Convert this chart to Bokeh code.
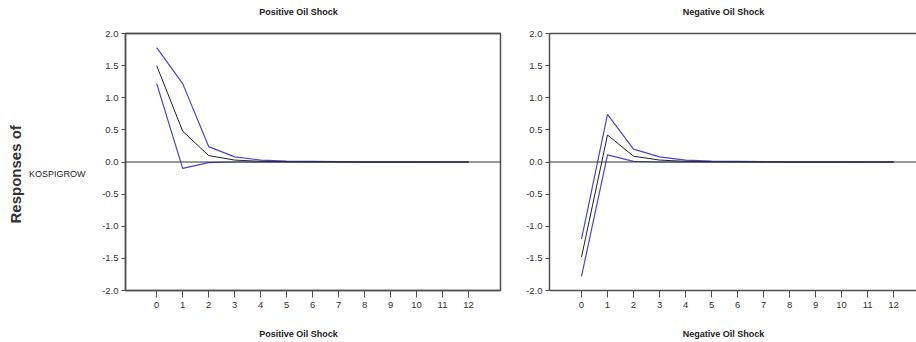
from bokeh.plotting import figure
from bokeh.layouts import row, column
from bokeh.models import Title, Span, LinearAxis, FixedTicker, NumeralTickFormatter, Range1d
from bokeh.core.properties import value
from bokeh.embed import file_html
from bokeh.resources import INLINE

periods = list(range(13))
pos_mid = [1.50, 0.48, 0.10, 0.03, 0.01, 0.005, 0.002, 0.001, 0.0, 0.0, 0.0, 0.0, 0.0]
pos_up = [1.78, 1.22, 0.24, 0.08, 0.03, 0.015, 0.01, 0.005, 0.003, 0.002, 0.001, 0.0, 0.0]
pos_lo = [1.22, -0.10, -0.01, 0.0, 0.0, 0.0, 0.0, 0.0, 0.0, 0.0, 0.0, 0.0, 0.0]
neg_mid = [-1.48, 0.42, 0.09, 0.03, 0.01, 0.005, 0.002, 0.001, 0.0, 0.0, 0.0, 0.0, 0.0]
neg_up = [-1.20, 0.74, 0.20, 0.08, 0.03, 0.015, 0.01, 0.005, 0.003, 0.002, 0.001, 0.0, 0.0]
neg_lo = [-1.78, 0.11, 0.01, 0.0, 0.0, 0.0, 0.0, 0.0, 0.0, 0.0, 0.0, 0.0, 0.0]
y_ticks = [-2.0, -1.5, -1.0, -0.5, 0.0, 0.5, 1.0, 1.5, 2.0]
titles = ["Positive Oil Shock", "Negative Oil Shock"]
row_label = "Responses of"
var_label = "KOSPIGROW"

FONT = "Liberation Sans"
BLUE = "#4848c6"
AXC = "#505050"
W = 916
TOP_H = 20
BOT_H = 24
MAIN_H = 342 - TOP_H - BOT_H
TITLE_X = [298, 723]   # pixel centres of the panel titles inside the strips


def strip(height, y):
    s = figure(width=W, height=height, output_backend="svg", toolbar_location=None,
               x_range=Range1d(0, W), y_range=Range1d(0, height),
               x_axis_location=None, y_axis_location=None, min_border=0)
    s.grid.visible = False
    s.outline_line_color = None
    s.text(x=TITLE_X, y=[y, y], text=titles, text_align="center", text_baseline="middle",
           text_font=value(FONT), text_font_style="bold", text_font_size="9px",
           text_color="#222222")
    return s


def style(p):
    p.grid.visible = False
    p.background_fill_color = "white"
    p.border_fill_color = "white"
    p.yaxis[0].ticker = FixedTicker(ticks=y_ticks)
    p.yaxis[0].formatter = NumeralTickFormatter(format="0.0")
    for ax in (p.xaxis[0], p.yaxis[0]):
        ax.axis_line_color = AXC
        ax.axis_line_width = 1.5
        ax.major_tick_line_color = AXC
        ax.minor_tick_line_color = None
        ax.major_tick_in = 0
        ax.major_label_text_font = FONT
        ax.major_label_text_font_size = "9.5px"
        ax.major_label_text_color = "#333333"
    p.xaxis[0].ticker = FixedTicker(ticks=periods)
    p.xaxis[0].major_tick_out = 7
    p.xaxis[0].major_label_standoff = 4
    p.yaxis[0].major_tick_out = 4
    p.yaxis[0].major_label_standoff = 3
    top_ax = LinearAxis(ticker=FixedTicker(ticks=[]), major_tick_line_color=None,
                        minor_tick_line_color=None, major_tick_out=0, major_tick_in=0,
                        major_label_standoff=0, axis_line_color=AXC, axis_line_width=1.5)
    p.add_layout(top_ax, "above")


def add_lines(p, mid, up, lo):
    p.add_layout(Span(location=0, dimension="width", line_color="#333333", line_width=1))
    p.line(periods, up, line_color=BLUE, line_width=1.2)
    p.line(periods, lo, line_color=BLUE, line_width=1.2)
    p.line(periods, mid, line_color="#222222", line_width=1)


# left panel
p1 = figure(width=510, height=MAIN_H, output_backend="svg", toolbar_location=None,
            x_range=Range1d(-1.2, 13.23), y_range=Range1d(-2.0, 2.0),
            min_border_left=125, min_border_right=10, min_border_top=13, min_border_bottom=28)
p1.outline_line_color = AXC
p1.outline_line_width = 1.5
style(p1)
add_lines(p1, pos_mid, pos_up, pos_lo)
var_ax = LinearAxis(ticker=FixedTicker(ticks=[]), axis_line_color=None,
                    major_tick_line_color=None, minor_tick_line_color=None,
                    major_tick_out=0, major_label_standoff=0,
                    axis_label="\n\n" + var_label, axis_label_orientation="horizontal",
                    axis_label_standoff=14, axis_label_text_font=FONT,
                    axis_label_text_font_style="normal", axis_label_text_font_size="9px",
                    axis_label_text_color="#222222", axis_label_text_line_height=1.15)
p1.add_layout(var_ax, "left")
p1.add_layout(Title(text=row_label, align="left", offset=67, standoff=4,
                    text_font=FONT, text_font_style="bold", text_font_size="15px",
                    text_color="#333333"), "left")

# right panel
p2 = figure(width=406, height=MAIN_H, output_backend="svg", toolbar_location=None,
            x_range=Range1d(-1.23, 12.88), y_range=Range1d(-2.0, 2.0),
            min_border_left=39, min_border_right=0, min_border_top=13, min_border_bottom=28)
p2.outline_line_color = None
style(p2)
add_lines(p2, neg_mid, neg_up, neg_lo)

top = strip(TOP_H, TOP_H - 11)
bottom = strip(BOT_H, 342 - 333)
layout = column(top, row(p1, p2, spacing=0), bottom, spacing=0)
open("out.html", "w").write(file_html(layout, INLINE))
